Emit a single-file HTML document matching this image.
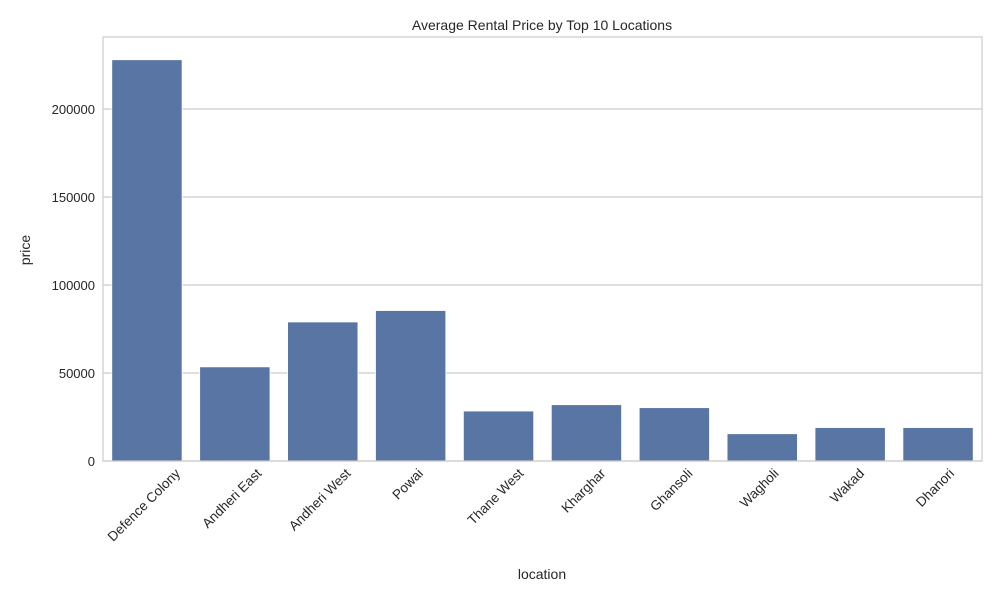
<!DOCTYPE html>
<html><head><meta charset="utf-8"><style>
body{margin:0;background:#fff;font-family:"Liberation Sans",sans-serif;}
svg text{font-family:"Liberation Sans",sans-serif;fill:#262626;}
</style></head><body>
<svg id="chart" width="1000" height="600">
<text x="542" y="30" font-size="14" text-anchor="middle">Average Rental Price by Top 10 Locations</text>
<text x="542" y="579" font-size="14" text-anchor="middle">location</text>
<text x="30" y="250" font-size="14" text-anchor="middle" transform="rotate(-90 30 250)">price</text>
<g id="grid"></g><g id="bars"></g><g id="xt"></g><g id="yt"></g>
<rect x="103" y="37" width="879" height="424" fill="none" stroke="#ccc" stroke-width="1.2"/>
</svg>
<script>
const categories=["Defence Colony","Andheri East","Andheri West","Powai","Thane West","Kharghar","Ghansoli","Wagholi","Wakad","Dhanori"];
const prices=[228000,53500,79000,85500,28400,32000,30300,15500,19000,19000];
const yTicks=[0,50000,100000,150000,200000];
const yTickLabels=["0","50000","100000","150000","200000"];
const L=103,R=982,B=461,T=37,yMax=240909;
const ns="http://www.w3.org/2000/svg";
function y(v){return B-(v/yMax)*(B-T);}
const step=(R-L)/categories.length;
function x(i){return L+step*(i+0.5);}
function mk(t,a,p){const e=document.createElementNS(ns,t);for(const k in a)e.setAttribute(k,a[k]);document.getElementById(p).appendChild(e);return e;}
yTicks.forEach((v,i)=>{
 const g=mk("line",{x1:L,x2:R,y1:y(v),y2:y(v),stroke:"#ccc","stroke-width":1.2},"grid");
 
 
 const t=mk("text",{x:L-8,y:y(v)+5,"font-size":13,"text-anchor":"end"},"yt");
 t.textContent=yTickLabels[i];
 
 
});
categories.forEach((c,i)=>{
 const w=step*0.8;
 const b=mk("rect",{x:x(i)-w/2,y:y(prices[i]),width:w,height:B-y(prices[i]),fill:"#5975a4",stroke:"#fff","stroke-width":0.8},"bars");
 
 
 const t=mk("text",{x:0,y:0,"font-size":13.5,"text-anchor":"middle"},"xt");
 t.textContent=c;
 const len=t.getComputedTextLength();
 const cx=x(i)-3,cy=466+len*0.354+5;
 t.setAttribute('x',cx);t.setAttribute('y',cy+4.5);
 t.setAttribute('transform',`rotate(-45 ${cx} ${cy})`);
 
 
});
</script>
</body></html>
